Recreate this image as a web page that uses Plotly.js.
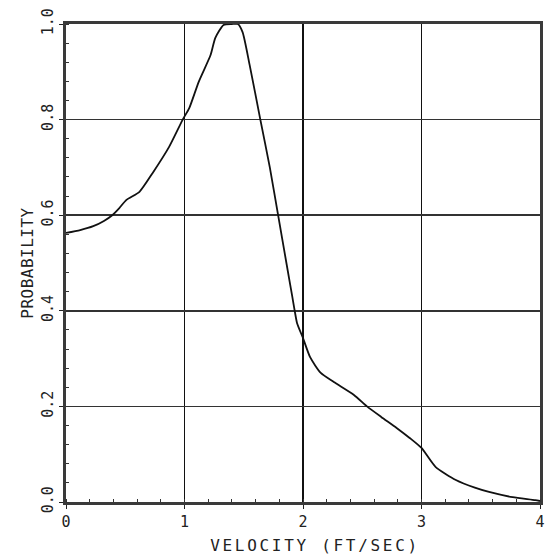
<!DOCTYPE html>
<html>
<head>
<meta charset="utf-8">
<script src="https://cdn.plot.ly/plotly-3.0.1.min.js"></script>
<style>
  html, body { margin: 0; padding: 0; background: #fff; }
  #chart { width: 546px; height: 559px; }
  .xtitle { letter-spacing: 2.7px; }
  .ytitle { letter-spacing: 0.5px; }
</style>
</head>
<body>
<div id="chart"></div>
<script>
// Velocity (ft/sec) vs. probability curve
const velocity = [0.00, 0.12, 0.23, 0.32, 0.39, 0.45, 0.51, 0.62, 0.73, 0.87, 0.985, 1.04, 1.12, 1.22, 1.26, 1.33, 1.40, 1.45, 1.49, 1.55, 1.64, 1.72, 1.79, 1.86, 1.91, 1.93, 1.95, 2.00, 2.06, 2.15, 2.26, 2.43, 2.54, 2.66, 2.79, 2.90, 3.00, 3.12, 3.29, 3.45, 3.57, 3.77, 3.96, 4.00];
const probability = [0.563, 0.569, 0.577, 0.588, 0.600, 0.615, 0.632, 0.649, 0.688, 0.743, 0.800, 0.824, 0.879, 0.935, 0.971, 0.998, 1.000, 1.000, 0.983, 0.914, 0.800, 0.700, 0.600, 0.500, 0.429, 0.400, 0.374, 0.343, 0.303, 0.270, 0.251, 0.224, 0.200, 0.178, 0.155, 0.134, 0.113, 0.073, 0.046, 0.030, 0.021, 0.010, 0.004, 0.002];

const xTicks = [0, 1, 2, 3, 4];
const xTickText = ['0', '1', '2', '3', '4'];
const yTicks = [0, 0.2, 0.4, 0.6, 0.8, 1.0];
const yTickText = ['0.0', '0.2', '0.4', '0.6', '0.8', '1.0'];

const monoFont = { family: 'DejaVu Sans Mono, Liberation Mono, monospace', color: '#222' };

const trace = {
  x: velocity,
  y: probability,
  type: 'scatter',
  mode: 'lines',
  line: { color: '#111', width: 1.8, shape: 'spline', smoothing: 0.6 },
  hoverinfo: 'skip'
};

const layout = {
  width: 546,
  height: 559,
  margin: { l: 66, r: 6, t: 24, b: 57 },
  paper_bgcolor: '#fff',
  plot_bgcolor: '#fff',
  showlegend: false,
  xaxis: {
    range: [0, 4],
    tickvals: xTicks,
    ticktext: xTickText,
    ticklabeloverflow: 'allow',
    tickfont: Object.assign({ size: 15 }, monoFont),
    ticks: 'outside',
    ticklen: 4,
    tickcolor: '#222',
    showgrid: true,
    gridcolor: '#111',
    gridwidth: 1.5,
    showline: true,
    mirror: true,
    linecolor: '#3a3a3a',
    linewidth: 3,
    zeroline: false,
    minor: { dtick: 0.2, ticks: 'inside', ticklen: 3, tickcolor: '#333', showgrid: false },
    title: { text: 'VELOCITY (FT/SEC)', font: Object.assign({ size: 16 }, monoFont), standoff: 10 }
  },
  yaxis: {
    range: [0, 1],
    tickvals: yTicks,
    ticktext: yTickText,
    tickangle: -90,
    tickfont: Object.assign({ size: 15 }, monoFont),
    ticks: 'outside',
    ticklen: 4,
    tickcolor: '#222',
    showgrid: true,
    gridcolor: '#333',
    gridwidth: 1.5,
    showline: true,
    mirror: true,
    linecolor: '#3a3a3a',
    linewidth: 3,
    zeroline: false,
    minor: { dtick: 0.04, ticks: 'inside', ticklen: 3, tickcolor: '#333', showgrid: false },
    title: { text: 'PROBABILITY', font: Object.assign({ size: 16 }, monoFont), standoff: 2 }
  }
};

Plotly.newPlot('chart', [trace], layout, { staticPlot: true, displayModeBar: false }).then(function (gd) {
  // nudge the x-axis title a little to the right of the plot centre
  const t = gd.querySelector('.xtitle');
  if (t) t.setAttribute('transform', 'translate(12,0)');
});
</script>
</body>
</html>
